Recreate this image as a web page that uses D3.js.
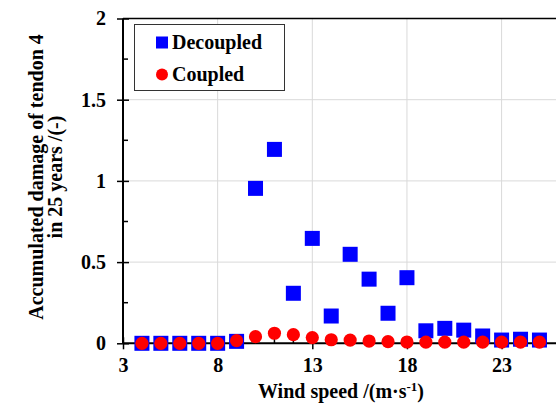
<!DOCTYPE html>
<html>
<head>
<meta charset="utf-8">
<script src="https://cdn.jsdelivr.net/npm/d3@7"></script>
<style>
  body { margin: 0; background: #fff; }
</style>
</head>
<body>
<svg id="chart" width="556" height="405"></svg>
<script>
// wind speeds (m/s)
const windSpeed = [4, 5, 6, 7, 8, 9, 10, 11, 12, 13, 14, 15, 16, 17, 18, 19, 20, 21, 22, 23, 24, 25];
// accumulated damage, decoupled model
const decoupled = [0, 0, 0, 0, 0, 0.012, 0.954, 1.194, 0.308, 0.646, 0.168, 0.548, 0.395, 0.185, 0.404, 0.077, 0.092, 0.081, 0.045, 0.02, 0.025, 0.02];
// accumulated damage, coupled model
const coupled = [0, 0, 0, 0, 0, 0.016, 0.041, 0.062, 0.053, 0.035, 0.022, 0.02, 0.014, 0.01, 0.008, 0.007, 0.007, 0.007, 0.007, 0.007, 0.007, 0.007];

const xTicks = [3, 8, 13, 18, 23];
const yTicks = [0, 0.5, 1, 1.5, 2];
const seriesNames = ["Decoupled", "Coupled"];

const FONT = "'Liberation Serif'";

const svg = d3.select('#chart');
const plotLeft = 123, plotTop = 18.5, plotBottom = 343.3;

const x = d3.scaleLinear().domain([3, 26]).range([plotLeft, plotLeft + 23 * 18.93]);
const y = d3.scaleLinear().domain([0, 2]).range([plotBottom, plotTop]);

// grid lines
svg.append('g')
  .selectAll('line')
  .data(xTicks.slice(1))
  .join('line')
  .attr('x1', d => x(d)).attr('x2', d => x(d))
  .attr('y1', plotTop).attr('y2', plotBottom)
  .attr('stroke', '#d9d9d9').attr('stroke-width', 1);

svg.append('g')
  .selectAll('line')
  .data(yTicks.slice(1, -1))
  .join('line')
  .attr('x1', plotLeft).attr('x2', 556)
  .attr('y1', d => y(d)).attr('y2', d => y(d))
  .attr('stroke', '#d9d9d9').attr('stroke-width', 1);

// top border
svg.append('line')
  .attr('x1', plotLeft).attr('x2', 556)
  .attr('y1', plotTop).attr('y2', plotTop)
  .attr('stroke', '#000').attr('stroke-width', 1.5);

// y axis: major ticks cross, minor ticks inside
const yAxis = svg.append('g').attr('transform', `translate(${plotLeft},0)`)
  .call(d3.axisLeft(y).tickValues(yTicks).tickSize(6).tickPadding(11).tickFormat(d3.format('')));
yAxis.select('.domain').attr('stroke-width', 2).attr('d', `M0,${plotTop}V${plotBottom}`);
yAxis.selectAll('.tick line').attr('x1', 6).attr('stroke-width', 1.5);
yAxis.selectAll('line.minor')
  .data([0.25, 0.75, 1.25, 1.75])
  .join('line').attr('class', 'minor')
  .attr('x1', 0).attr('x2', 5)
  .attr('y1', d => y(d)).attr('y2', d => y(d))
  .attr('stroke', '#000').attr('stroke-width', 1.5);

// x axis
const xAxis = svg.append('g').attr('transform', `translate(0,${plotBottom})`)
  .call(d3.axisBottom(x).tickValues(xTicks).tickSize(6).tickPadding(9));
xAxis.select('.domain').attr('stroke-width', 2).attr('d', `M${plotLeft},0H556`);
xAxis.selectAll('.tick line').attr('y1', -6).attr('stroke-width', 1.5);
xAxis.selectAll('line.minor')
  .data(d3.range(4, 26).filter(v => !xTicks.includes(v)))
  .join('line').attr('class', 'minor')
  .attr('x1', d => x(d)).attr('x2', d => x(d))
  .attr('y1', 0).attr('y2', -5)
  .attr('stroke', '#000').attr('stroke-width', 1.5);

// data marks
svg.append('g')
  .selectAll('rect')
  .data(windSpeed)
  .join('rect')
  .attr('x', (d) => x(d) - 7.5)
  .attr('y', (d, i) => y(decoupled[i]) - 7.5)
  .attr('width', 15).attr('height', 15)
  .attr('fill', '#0000ff');

svg.append('g')
  .selectAll('circle')
  .data(windSpeed)
  .join('circle')
  .attr('cx', (d) => x(d))
  .attr('cy', (d, i) => y(coupled[i]))
  .attr('r', 6.6)
  .attr('fill', '#ff0000');

// legend
const legend = svg.append('g');
legend.append('rect')
  .attr('x', 134.5).attr('y', 24.5).attr('width', 150).attr('height', 66)
  .attr('fill', '#fff').attr('stroke', '#333').attr('stroke-width', 1);
legend.append('rect')
  .attr('x', 156).attr('y', 36.5).attr('width', 12).attr('height', 12)
  .attr('fill', '#0000ff');
legend.append('circle')
  .attr('cx', 162).attr('cy', 74.5).attr('r', 6)
  .attr('fill', '#ff0000');
legend.selectAll('text')
  .data(seriesNames)
  .join('text')
  .attr('x', 172)
  .attr('y', (d, i) => 49 + i * 32)
  .text(d => d);

// axis titles
const xt = svg.append('text')
  .attr('x', 341).attr('y', 398)
  .attr('text-anchor', 'middle');
xt.append('tspan').text('Wind speed /(m·s');
xt.append('tspan').attr('class', 'sup').attr('dy', -7).text('-1');
xt.append('tspan').attr('dy', 7).text(')');

const yt = svg.append('text')
  .attr('transform', 'translate(0,177) rotate(-90)')
  .attr('text-anchor', 'middle');
yt.append('tspan').attr('x', 0).attr('y', 43).text('Accumulated damage of tendon 4');
yt.append('tspan').attr('x', 0).attr('y', 62).text('in 25 years /(-)');

// shared text style
svg.selectAll('text')
  .style('font-family', FONT)
  .style('font-weight', 'bold')
  .style('font-size', '20px')
  .attr('fill', '#000');
xt.select('.sup').style('font-size', '13px');
</script>
</body>
</html>
